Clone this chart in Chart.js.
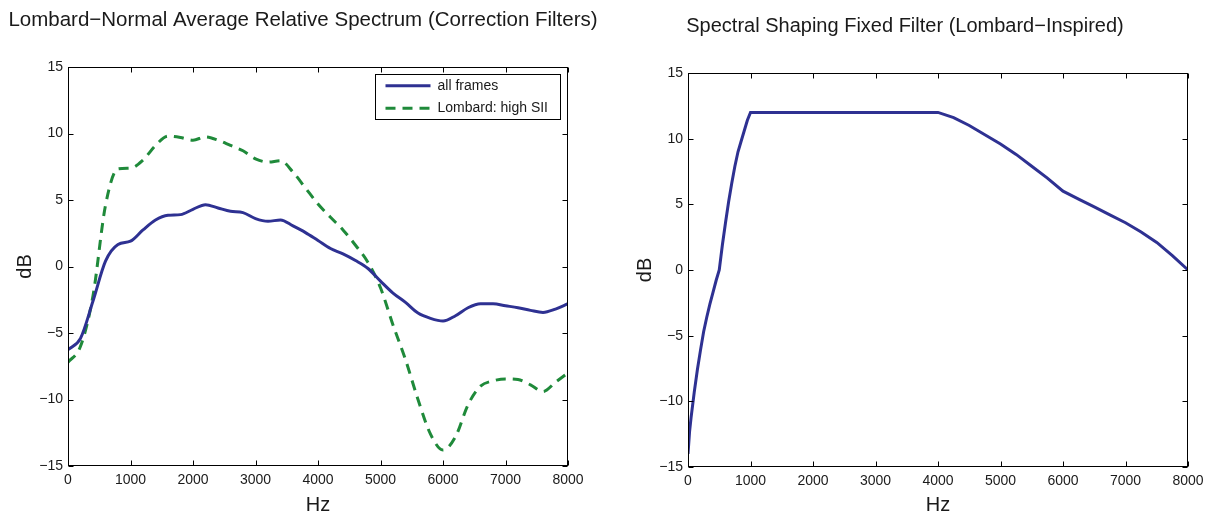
<!DOCTYPE html>
<html>
<head>
<meta charset="utf-8">
<script src="https://cdn.jsdelivr.net/npm/chart.js@4/dist/chart.umd.min.js"></script>
<style>
  html, body { margin: 0; padding: 0; background: #fff; }
  body { width: 1212px; height: 515px; position: relative; overflow: hidden; }
  canvas { position: absolute; top: 0; }
  #left-chart { left: 0; }
  #right-chart { left: 606px; }
</style>
</head>
<body>
<canvas id="left-chart" width="606" height="515"></canvas>
<canvas id="right-chart" width="606" height="515"></canvas>
<script>
// left panel: average relative spectrum (dB)
const freqHz = [0, 200, 400, 600, 800, 1000, 1200, 1400, 1600, 1800, 2000, 2200, 2400, 2600, 2800,
  3000, 3200, 3400, 3600, 3800, 4000, 4200, 4400, 4600, 4800, 5000, 5200, 5400, 5600, 5800,
  6000, 6200, 6400, 6600, 6800, 7000, 7200, 7400, 7600, 7800, 8000];
const allFrames = [-6.25, -5.4, -2.6, 0.4, 1.65, 1.9, 2.75, 3.5, 3.85, 3.9, 4.3, 4.65, 4.4, 4.15, 4.05,
  3.6, 3.4, 3.5, 3.05, 2.55, 1.95, 1.35, 0.95, 0.45, -0.15, -1.1, -2.0, -2.7, -3.5, -3.9,
  -4.1, -3.7, -3.1, -2.8, -2.8, -2.95, -3.1, -3.3, -3.45, -3.2, -2.8];
const lombardHighSII = [-7.2, -6.0, -2.2, 4.6, 7.35, 7.4, 8.0, 9.1, 9.8, 9.7, 9.5, 9.75, 9.5, 9.1, 8.7,
  8.1, 7.85, 7.95, 7.1, 5.9, 4.7, 3.7, 2.75, 1.6, 0.3, -1.6, -4.4, -7.0, -10.0, -12.6,
  -13.8, -12.8, -10.4, -9.0, -8.6, -8.45, -8.5, -8.9, -9.4, -8.7, -8.0];

// right panel: fixed shaping filter (dB)
const filterHz = [0, 25, 50, 100, 150, 200, 250, 300, 350, 400, 450, 500,
  550, 600, 650, 700, 750, 800, 850, 900, 950, 1000,
  4000, 4250, 4500, 4750, 5000, 5250, 5500, 5750, 6000,
  6250, 6500, 6750, 7000, 7250, 7500, 7750, 8000];
const filterDb = [-14, -12.3, -11.2, -9.3, -7.6, -6.1, -4.7, -3.6, -2.6, -1.7, -0.8, 0,
  1.9, 3.6, 5.2, 6.6, 7.9, 9.0, 9.8, 10.6, 11.4, 12,
  12, 11.6, 11.0, 10.3, 9.6, 8.8, 7.9, 7.0, 6.0,
  5.4, 4.8, 4.2, 3.6, 2.9, 2.1, 1.1, 0];

const xTickValues = [0, 1000, 2000, 3000, 4000, 5000, 6000, 7000, 8000];
const yTickValues = [-15, -10, -5, 0, 5, 10, 15];

const FONT = '"Liberation Sans", Arial, Helvetica, sans-serif';
const BLUE = '#2E3192';
const GREEN = '#1F8A3A';
const INK = '#1a1a1a';

Chart.defaults.font.family = FONT;
Chart.defaults.color = INK;

const toPoints = (xs, ys) => xs.map((x, i) => ({ x: x, y: ys[i] }));

// matlab-style box with ticks pointing inward
const boxFrame = {
  id: 'boxFrame',
  afterDatasetsDraw(chart) {
    const { ctx, chartArea: a, scales } = chart;
    const L = Math.round(a.left) + 0.5, R = Math.round(a.right) - 0.5;
    const T = Math.round(a.top) + 0.5, B = Math.round(a.bottom) - 0.5;
    const len = 5;
    ctx.save();
    ctx.strokeStyle = '#000';
    ctx.lineWidth = 1;
    ctx.beginPath();
    scales.x.ticks.forEach(t => {
      const px = Math.round(scales.x.getPixelForValue(t.value)) + 0.5;
      ctx.moveTo(px, B); ctx.lineTo(px, B - len);
      ctx.moveTo(px, T); ctx.lineTo(px, T + len);
    });
    scales.y.ticks.forEach(t => {
      const py = Math.round(scales.y.getPixelForValue(t.value)) + 0.5;
      ctx.moveTo(L, py); ctx.lineTo(L + len, py);
      ctx.moveTo(R, py); ctx.lineTo(R - len, py);
    });
    ctx.stroke();
    ctx.strokeRect(L, T, R - L, B - T);
    ctx.restore();
  }
};

// panel title, placed like the matlab figure (not centred on the canvas)
const panelTitle = {
  id: 'panelTitle',
  afterDraw(chart, args, opts) {
    const { ctx } = chart;
    ctx.save();
    ctx.font = opts.size + 'px ' + FONT;
    ctx.fillStyle = INK;
    ctx.textAlign = 'center';
    ctx.textBaseline = 'middle';
    ctx.fillText(opts.text, opts.cx, opts.cy);
    ctx.restore();
  }
};

// legend box inside the top right corner of the plot
const insideLegend = {
  id: 'insideLegend',
  afterDraw(chart, args, opts) {
    if (!opts.show) return;
    const { ctx, chartArea: a } = chart;
    const sets = chart.data.datasets;
    const w = 185, rowH = 22.5, h = sets.length * rowH;
    const x0 = Math.round(a.right - 8 - w) + 0.5, y0 = Math.round(a.top + 7) + 0.5;
    ctx.save();
    ctx.fillStyle = '#fff';
    ctx.fillRect(x0, y0, w, h);
    ctx.strokeStyle = '#000';
    ctx.lineWidth = 1;
    ctx.strokeRect(x0, y0, w, h);
    ctx.font = '14px ' + FONT;
    ctx.textBaseline = 'middle';
    sets.forEach((ds, i) => {
      const cy = y0 + rowH * i + rowH / 2;
      ctx.beginPath();
      ctx.strokeStyle = ds.borderColor;
      ctx.lineWidth = ds.borderWidth;
      ctx.setLineDash(ds.borderDash || []);
      ctx.moveTo(x0 + 10, cy);
      ctx.lineTo(x0 + 55, cy);
      ctx.stroke();
      ctx.setLineDash([]);
      ctx.fillStyle = INK;
      ctx.fillText(ds.label, x0 + 62, cy);
    });
    ctx.restore();
  }
};

function makeOptions(cfg) {
  return {
    responsive: false,
    animation: false,
    devicePixelRatio: 1,
    layout: { padding: { left: 0, right: cfg.padRight, top: cfg.padTop, bottom: 0 } },
    plugins: {
      legend: { display: false },
      tooltip: { enabled: false },
      title: { display: false },
      insideLegend: { show: cfg.legend },
      panelTitle: { text: cfg.title, size: cfg.titleSize, cx: cfg.titleX, cy: cfg.titleY }
    },
    scales: {
      x: {
        type: 'linear',
        min: 0, max: 8000,
        grid: { display: false, drawTicks: false },
        border: { display: false },
        afterBuildTicks: s => { s.ticks = xTickValues.map(v => ({ value: v })); },
        afterFit: s => { s.height = cfg.xHeight; },
        ticks: { padding: 6, font: { size: 14 }, color: INK, maxRotation: 0, callback: v => String(v) },
        title: { display: true, text: 'Hz', color: INK, font: { size: 20, lineHeight: 1.0 }, padding: { top: 0, bottom: 0 } }
      },
      y: {
        min: -15, max: 15,
        grid: { display: false, drawTicks: false },
        border: { display: false },
        afterBuildTicks: s => { s.ticks = yTickValues.map(v => ({ value: v })); },
        afterFit: s => { s.width = cfg.yWidth; },
        ticks: { padding: 5, font: { size: 14 }, color: INK, callback: v => String(v).replace('-', '\u2212') },
        title: { display: true, text: 'dB', color: INK, font: { size: 20, lineHeight: 1.2 }, padding: { top: cfg.dbPad, bottom: 0 } }
      }
    }
  };
}

new Chart(document.getElementById('left-chart'), {
  type: 'line',
  data: {
    datasets: [
      {
        label: 'all frames',
        data: toPoints(freqHz, allFrames),
        borderColor: BLUE,
        borderWidth: 3,
        pointRadius: 0,
        cubicInterpolationMode: 'monotone',
        fill: false
      },
      {
        label: 'Lombard: high SII',
        data: toPoints(freqHz, lombardHighSII),
        borderColor: GREEN,
        borderWidth: 3,
        borderDash: [10, 7],
        pointRadius: 0,
        cubicInterpolationMode: 'monotone',
        fill: false
      }
    ]
  },
  options: makeOptions({
    title: 'Lombard\u2212Normal Average Relative Spectrum (Correction Filters)',
    titleSize: 20.5, titleX: 303, titleY: 20,
    padTop: 67, padRight: 38, xHeight: 49, yWidth: 68, dbPad: 13, legend: true
  }),
  plugins: [boxFrame, insideLegend, panelTitle]
});

new Chart(document.getElementById('right-chart'), {
  type: 'line',
  data: {
    datasets: [
      {
        label: 'filter',
        data: toPoints(filterHz, filterDb),
        borderColor: BLUE,
        borderWidth: 3,
        pointRadius: 0,
        tension: 0,
        fill: false
      }
    ]
  },
  options: makeOptions({
    title: 'Spectral Shaping Fixed Filter (Lombard\u2212Inspired)',
    titleSize: 20, titleX: 299, titleY: 26,
    padTop: 73, padRight: 24, xHeight: 48, yWidth: 82, dbPad: 27, legend: false
  }),
  plugins: [boxFrame, insideLegend, panelTitle]
});
</script>
</body>
</html>
